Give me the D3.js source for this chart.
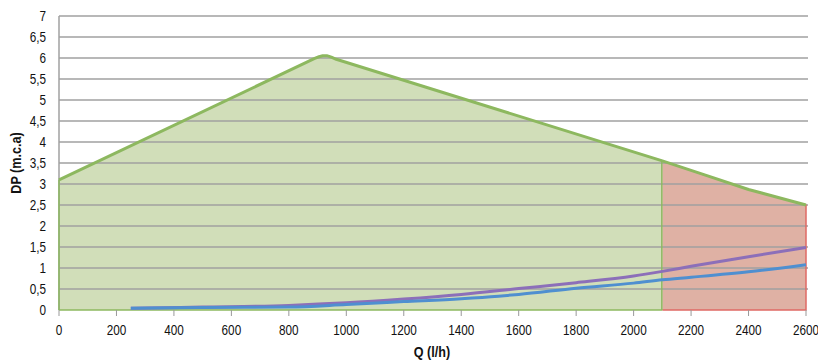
<!DOCTYPE html>
<html><head><meta charset="utf-8">
<script src="https://cdn.jsdelivr.net/npm/d3@7"></script>
<style>
body{margin:0;background:#fff;}
svg text{font-family:'Liberation Sans',Arial,sans-serif;fill:#111;}
</style></head><body>
<svg id="c" width="818" height="363"></svg>
<script>
const xTicks = [0,200,400,600,800,1000,1200,1400,1600,1800,2000,2200,2400,2600];
const yTicks = [0,0.5,1,1.5,2,2.5,3,3.5,4,4.5,5,5.5,6,6.5,7];
const limitQ = [0,890,905,918,932,948,965,2100,2250,2400,2600];
const limitDP = [3.1,5.99,6.03,6.055,6.055,6.02,5.97,3.55,3.21,2.87,2.5];
const splitQ = 2100;
const purpleQ = [250,500,800,1000,1200,1400,1600,1800,2000,2100,2200,2400,2600];
const purpleDP = [0.04,0.07,0.11,0.17,0.26,0.37,0.51,0.65,0.81,0.92,1.04,1.27,1.49];
const blueQ = [250,500,800,1000,1200,1400,1530,1600,1800,2000,2100,2200,2400,2600];
const blueDP = [0.04,0.06,0.07,0.13,0.2,0.27,0.33,0.37,0.52,0.64,0.72,0.78,0.91,1.08];

const svg = d3.select('#c');
const m = {l:59, r:818-806, t:16, b:363-310};
const W = 818, H = 363;
const x = d3.scaleLinear().domain([0,2600]).range([m.l, W-m.r]);
const y = d3.scaleLinear().domain([0,7]).range([H-m.b, m.t]);
const fmt = d => String(d).replace('.', ',');
const SX = 0.84;

const limit = limitQ.map((q,i)=>({q, v:limitDP[i]}));
const lineGen = d3.line().x(d=>x(d.q)).y(d=>y(d.v)).curve(d3.curveLinear);
const areaGen = d3.area().x(d=>x(d.q)).y0(y(0)).y1(d=>y(d.v)).curve(d3.curveLinear);
const smoothGen = d3.line().x(d=>x(d.q)).y(d=>y(d.v)).curve(d3.curveMonotoneX);

const defs = svg.append('defs');
defs.append('clipPath').attr('id','cg').append('rect')
  .attr('x', x(0)).attr('y', 0).attr('width', x(splitQ)-x(0)).attr('height', H);
defs.append('clipPath').attr('id','cr').append('rect')
  .attr('x', x(splitQ)).attr('y', 0).attr('width', x(2600)-x(splitQ)+2).attr('height', H);

svg.append('path').datum(limit).attr('d', areaGen)
  .attr('clip-path','url(#cg)').attr('fill','#d1deb9');
svg.append('path').datum(limit).attr('d', areaGen)
  .attr('clip-path','url(#cr)').attr('fill','#dfb1a4');

svg.append('g').selectAll('line').data(yTicks.filter(d=>d>0)).join('line')
  .attr('x1', x(0)).attr('x2', x(2600)+2)
  .attr('y1', d=>y(d)).attr('y2', d=>y(d))
  .attr('stroke','#a0a0a0').attr('stroke-width',1.5);

svg.append('path').datum(limit).attr('d', areaGen)
  .attr('clip-path','url(#cr)').attr('fill','none')
  .attr('stroke','#e06a64').attr('stroke-width',1.5);
svg.append('line').attr('x1',x(0)).attr('x2',x(0)).attr('y1',y(0)).attr('y2',y(7))
  .attr('stroke','#a0a0a0').attr('stroke-width',1.5);
svg.append('line').attr('x1',x(0)).attr('x2',x(0)).attr('y1',y(0)).attr('y2',y(limitDP[0]))
  .attr('stroke','#8db85f').attr('stroke-width',1.5);
svg.append('line').attr('x1',x(0)).attr('x2',x(splitQ)).attr('y1',y(0)).attr('y2',y(0))
  .attr('stroke','#8db85f').attr('stroke-width',1.5);
svg.append('line').attr('x1',x(splitQ)-0.5).attr('x2',x(splitQ)-0.5).attr('y1',y(0)).attr('y2',y(3.55))
  .attr('stroke','#8db85f').attr('stroke-width',1.5);

svg.append('g').selectAll('line').data(xTicks).join('line')
  .attr('x1', d=>x(d)).attr('x2', d=>x(d)).attr('y1', y(0)).attr('y2', y(0)+6)
  .attr('stroke','#999').attr('stroke-width',1);

svg.append('path').datum(purpleQ.map((q,i)=>({q,v:purpleDP[i]}))).attr('d', smoothGen)
  .attr('fill','none').attr('stroke','#8c6fb9').attr('stroke-width',3);
svg.append('path').datum(blueQ.map((q,i)=>({q,v:blueDP[i]}))).attr('d', smoothGen)
  .attr('fill','none').attr('stroke','#4f8fd0').attr('stroke-width',3);
svg.append('path').datum(limit).attr('d', lineGen)
  .attr('fill','none').attr('stroke','#8db85f').attr('stroke-width',3)
  .attr('stroke-linejoin','round');

svg.append('g').selectAll('text').data(xTicks).join('text')
  .attr('transform', d=>`translate(${x(d)},335) scale(${SX},1)`).attr('text-anchor','middle')
  .attr('font-size',14).text(d=>d);
svg.append('g').selectAll('text').data(yTicks).join('text')
  .attr('transform', d=>`translate(46,${y(d)+5}) scale(${SX},1)`).attr('text-anchor','end')
  .attr('font-size',14).text(fmt);

svg.append('text').attr('transform','translate(432,357) scale(0.84,1)').attr('text-anchor','middle')
  .attr('font-size',15).attr('font-weight','bold').text('Q (l/h)');
svg.append('text').attr('transform','translate(21,163) rotate(-90) scale(0.84,1)')
  .attr('text-anchor','middle').attr('font-size',15).attr('font-weight','bold').text('DP (m.c.a)');
</script></body></html>
